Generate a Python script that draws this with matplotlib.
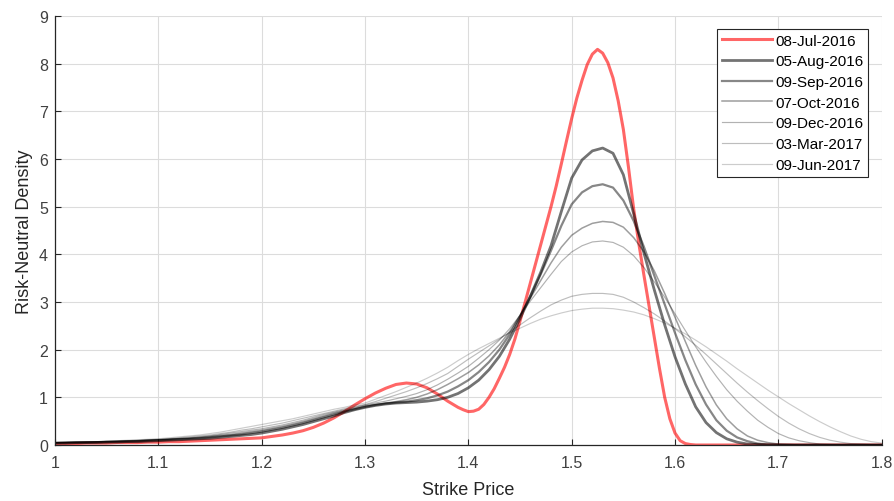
import numpy as np
import matplotlib
matplotlib.use("Agg")
import matplotlib.pyplot as plt

plt.rcParams['font.family'] = ['Liberation Sans', 'DejaVu Sans']

strike = np.round(np.linspace(1.0, 1.8, 81), 2)

# 08-Jul-2016 is sampled more finely (0.005) where it is steep
strike_jul = [
    1.00, 1.01, 1.02, 1.03, 1.04, 1.05, 1.06, 1.07, 1.08, 1.09,
    1.10, 1.11, 1.12, 1.13, 1.14, 1.15, 1.16, 1.17, 1.18, 1.19,
    1.20, 1.21, 1.22, 1.23, 1.24, 1.25, 1.26, 1.27, 1.28, 1.29,
    1.30, 1.31, 1.32, 1.33, 1.34, 1.35, 1.36, 1.37, 1.38, 1.39,
    1.395, 1.40, 1.405, 1.41, 1.415, 1.42, 1.425, 1.43, 1.435, 1.44,
    1.445, 1.45, 1.455, 1.46, 1.465, 1.47, 1.475, 1.48, 1.485, 1.49,
    1.495, 1.50, 1.505, 1.51, 1.515, 1.52, 1.525, 1.53, 1.535, 1.54,
    1.545, 1.55, 1.555, 1.56, 1.565, 1.57, 1.575, 1.58, 1.585, 1.59,
    1.595, 1.60, 1.605, 1.61, 1.615, 1.62, 1.63, 1.64, 1.65, 1.66,
    1.67, 1.68, 1.69, 1.70, 1.71, 1.72, 1.73, 1.74, 1.75, 1.76,
    1.77, 1.78, 1.79, 1.80]

jul_2016 = [
    0.03, 0.03, 0.03, 0.04, 0.04, 0.04, 0.05, 0.05, 0.05, 0.06,
    0.06, 0.07, 0.07, 0.08, 0.09, 0.10, 0.11, 0.12, 0.13, 0.14,
    0.15, 0.18, 0.21, 0.25, 0.30, 0.37, 0.46, 0.57, 0.70, 0.84,
    0.97, 1.09, 1.19, 1.27, 1.30, 1.28, 1.20, 1.07, 0.92, 0.79,
    0.74, 0.70, 0.71, 0.75, 0.85, 1.00, 1.18, 1.40, 1.63, 1.90,
    2.22, 2.60, 3.00, 3.40, 3.80, 4.20, 4.60, 5.00, 5.43, 5.90,
    6.38, 6.85, 7.28, 7.65, 7.98, 8.20, 8.30, 8.22, 8.02, 7.70,
    7.22, 6.62, 5.82, 4.95, 4.22, 3.55, 2.90, 2.25, 1.60, 1.00,
    0.55, 0.25, 0.09, 0.03, 0.01, 0, 0, 0, 0, 0,
    0, 0, 0, 0, 0, 0, 0, 0, 0, 0,
    0, 0, 0, 0]

aug_2016 = [
    0.04, 0.04, 0.05, 0.05, 0.05, 0.06, 0.06, 0.07, 0.07, 0.08,
    0.09, 0.10, 0.11, 0.12, 0.13, 0.14, 0.16, 0.18, 0.20, 0.22,
    0.25, 0.29, 0.33, 0.38, 0.43, 0.49, 0.55, 0.61, 0.68, 0.74,
    0.79, 0.83, 0.86, 0.88, 0.89, 0.90, 0.92, 0.95, 1.00, 1.08,
    1.20, 1.36, 1.58, 1.86, 2.22, 2.65, 3.12, 3.62, 4.18, 4.90,
    5.60, 5.98, 6.17, 6.23, 6.12, 5.67, 4.85, 4.02, 3.25, 2.52,
    1.85, 1.28, 0.80, 0.47, 0.26, 0.13, 0.06, 0.02, 0.01, 0,
    0, 0, 0, 0, 0, 0, 0, 0, 0, 0, 0]

sep_2016 = [
    0.04, 0.05, 0.05, 0.05, 0.06, 0.06, 0.07, 0.07, 0.08, 0.09,
    0.10, 0.11, 0.12, 0.13, 0.14, 0.16, 0.18, 0.20, 0.22, 0.25,
    0.28, 0.32, 0.36, 0.41, 0.46, 0.52, 0.58, 0.64, 0.70, 0.75,
    0.80, 0.84, 0.87, 0.89, 0.91, 0.94, 0.98, 1.04, 1.12, 1.23,
    1.36, 1.53, 1.74, 2.00, 2.32, 2.70, 3.12, 3.58, 4.08, 4.60,
    5.05, 5.30, 5.43, 5.47, 5.40, 5.13, 4.70, 4.15, 3.55, 2.95,
    2.35, 1.78, 1.27, 0.85, 0.52, 0.30, 0.16, 0.08, 0.03, 0.01,
    0, 0, 0, 0, 0, 0, 0, 0, 0, 0, 0]

oct_2016 = [
    0.05, 0.05, 0.05, 0.06, 0.06, 0.07, 0.07, 0.08, 0.09, 0.10,
    0.11, 0.12, 0.13, 0.14, 0.16, 0.18, 0.20, 0.22, 0.25, 0.28,
    0.31, 0.35, 0.39, 0.44, 0.49, 0.55, 0.61, 0.67, 0.72, 0.77,
    0.82, 0.85, 0.88, 0.91, 0.95, 1.00, 1.07, 1.16, 1.27, 1.39,
    1.52, 1.68, 1.87, 2.10, 2.38, 2.72, 3.08, 3.45, 3.82, 4.15,
    4.40, 4.55, 4.65, 4.69, 4.67, 4.57, 4.35, 4.05, 3.65, 3.18,
    2.68, 2.17, 1.67, 1.22, 0.84, 0.55, 0.34, 0.19, 0.10, 0.05,
    0.02, 0.01, 0, 0, 0, 0, 0, 0, 0, 0, 0]

dec_2016 = [
    0.05, 0.05, 0.06, 0.06, 0.07, 0.07, 0.08, 0.09, 0.09, 0.10,
    0.11, 0.12, 0.14, 0.15, 0.17, 0.19, 0.22, 0.25, 0.28, 0.31,
    0.34, 0.38, 0.42, 0.47, 0.52, 0.58, 0.64, 0.69, 0.74, 0.79,
    0.84, 0.88, 0.92, 0.97, 1.02, 1.08, 1.16, 1.26, 1.38, 1.51,
    1.65, 1.82, 2.00, 2.20, 2.44, 2.72, 3.02, 3.30, 3.58, 3.85,
    4.05, 4.18, 4.26, 4.28, 4.25, 4.15, 3.97, 3.72, 3.42, 3.10,
    2.75, 2.40, 2.06, 1.74, 1.44, 1.16, 0.92, 0.71, 0.52, 0.37,
    0.24, 0.15, 0.09, 0.05, 0.02, 0.01, 0, 0, 0, 0, 0]

mar_2017 = [
    0.05, 0.05, 0.06, 0.06, 0.07, 0.08, 0.08, 0.09, 0.10, 0.11,
    0.12, 0.13, 0.15, 0.17, 0.19, 0.21, 0.24, 0.27, 0.31, 0.34,
    0.38, 0.42, 0.46, 0.51, 0.56, 0.61, 0.66, 0.71, 0.76, 0.81,
    0.85, 0.91, 0.98, 1.05, 1.12, 1.20, 1.29, 1.39, 1.50, 1.65,
    1.80, 1.94, 2.08, 2.22, 2.37, 2.52, 2.67, 2.81, 2.94, 3.04,
    3.12, 3.16, 3.18, 3.18, 3.16, 3.10, 3.00, 2.88, 2.75, 2.60,
    2.44, 2.27, 2.09, 1.90, 1.70, 1.50, 1.30, 1.11, 0.93, 0.76,
    0.60, 0.46, 0.34, 0.24, 0.16, 0.10, 0.06, 0.03, 0.02, 0.01, 0.01]

jun_2017 = [
    0.05, 0.06, 0.06, 0.07, 0.07, 0.08, 0.09, 0.10, 0.11, 0.12,
    0.13, 0.15, 0.17, 0.19, 0.21, 0.24, 0.27, 0.31, 0.35, 0.39,
    0.43, 0.47, 0.51, 0.55, 0.60, 0.65, 0.70, 0.75, 0.79, 0.84,
    0.88, 0.96, 1.04, 1.12, 1.21, 1.30, 1.40, 1.51, 1.63, 1.77,
    1.90, 2.02, 2.13, 2.24, 2.35, 2.45, 2.55, 2.64, 2.71, 2.77,
    2.82, 2.85, 2.87, 2.87, 2.86, 2.83, 2.79, 2.73, 2.65, 2.56,
    2.45, 2.33, 2.20, 2.06, 1.91, 1.76, 1.60, 1.45, 1.30, 1.15,
    1.01, 0.87, 0.74, 0.61, 0.49, 0.38, 0.28, 0.19, 0.12, 0.07, 0.04]

labels = ['08-Jul-2016', '05-Aug-2016', '09-Sep-2016', '07-Oct-2016',
          '09-Dec-2016', '03-Mar-2017', '09-Jun-2017']
xs = [strike_jul] + [strike] * 6
series = [jul_2016, aug_2016, sep_2016, oct_2016, dec_2016, mar_2017, jun_2017]
colors = [(1, 0, 0, 0.6), (0, 0, 0, 0.55), (0, 0, 0, 0.47), (0, 0, 0, 0.38),
          (0, 0, 0, 0.30), (0, 0, 0, 0.26), (0, 0, 0, 0.20)]
widths = [2.2, 2.0, 1.6, 1.1, 0.85, 0.85, 0.85]

xticks = [1.0, 1.1, 1.2, 1.3, 1.4, 1.5, 1.6, 1.7, 1.8]
xticklabels = ['1', '1.1', '1.2', '1.3', '1.4', '1.5', '1.6', '1.7', '1.8']
yticks = [0, 1, 2, 3, 4, 5, 6, 7, 8, 9]

fig = plt.figure(figsize=(8.95, 5.02), dpi=100)
ax = fig.add_axes([55 / 895, 1 - 446 / 502, (881.7 - 55) / 895, (446 - 17) / 502])

for xv, vals, lab, col, lw in zip(xs, series, labels, colors, widths):
    ax.plot(xv, vals, color=col, lw=lw, label=lab, solid_joinstyle='round')

ax.set_xlim(1.0, 1.8)
ax.set_ylim(0, 9)
ax.set_xticks(xticks)
ax.set_xticklabels(xticklabels)
ax.set_yticks(yticks)
ax.grid(True, color='#dcdcdc', lw=0.8)
ax.set_axisbelow(True)
for s in ['top', 'right']:
    ax.spines[s].set_visible(False)
for s in ['left', 'bottom']:
    ax.spines[s].set_color('#262626')
    ax.spines[s].set_linewidth(0.9)
ax.tick_params(direction='in', length=4.5, width=0.8, colors='#262626',
               labelsize=11.5, labelcolor='#404040')
ax.tick_params(axis='x', pad=7)
ax.tick_params(axis='y', pad=5)
ax.set_xlabel('Strike Price', fontsize=13, color='#262626', labelpad=8)
ax.set_ylabel('Risk-Neutral Density', fontsize=13, color='#262626', labelpad=4)

leg = ax.legend(loc='upper left', bbox_to_anchor=((717 - 55) / (881.7 - 55), (446 - 30) / 429),
                borderaxespad=0, fontsize=11, handlelength=3.27, handletextpad=0.22,
                borderpad=0.3, labelspacing=0.44, fancybox=False, framealpha=1,
                edgecolor='#262626')
leg.get_frame().set_linewidth(0.8)

fig.savefig('out.png', dpi=100)
